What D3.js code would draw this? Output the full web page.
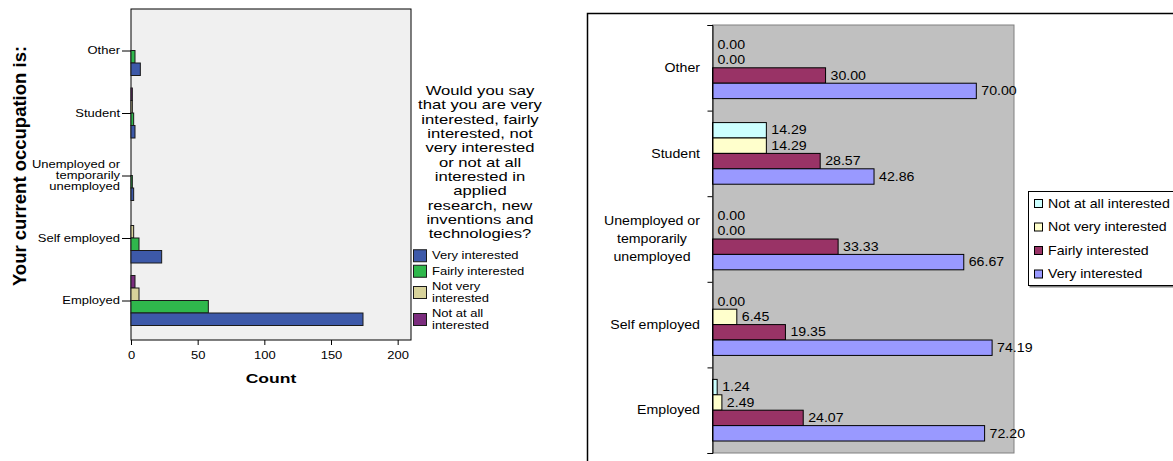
<!DOCTYPE html>
<html>
<head>
<meta charset="utf-8">
<script src="https://cdn.jsdelivr.net/npm/d3@7"></script>
<style>
  html, body { margin: 0; padding: 0; background: #fff; }
  svg { display: block; font-family: "Liberation Sans", Arial, sans-serif; }
</style>
</head>
<body>
<svg id="chart" width="1173" height="461"></svg>
<script>
// ---------- data ----------
const categories = ["Other", "Student", "Unemployed or\ntemporarily\nunemployed", "Self employed", "Employed"];

// respondent counts per occupation
const countNotAtAll = [0, 1, 0, 0, 3];
const countNotVery  = [0, 1, 0, 2, 6];
const countFairly   = [3, 2, 1, 6, 58];
const countVery     = [7, 3, 2, 23, 174];
const countTicks    = [0, 50, 100, 150, 200];

// row percentages per occupation
const pctNotAtAll = [0.00, 14.29, 0.00, 0.00, 1.24];
const pctNotVery  = [0.00, 14.29, 0.00, 6.45, 2.49];
const pctFairly   = [30.00, 28.57, 33.33, 19.35, 24.07];
const pctVery     = [70.00, 42.86, 66.67, 74.19, 72.20];

const seriesNames = ["Not at all interested", "Not very interested", "Fairly interested", "Very interested"];
const leftLegendTitle = ["Would you say", "that you are very", "interested, fairly", "interested, not",
  "very interested", "or not at all", "interested in", "applied", "research, new",
  "inventions and", "technologies?"];
const leftLegendLabels = ["Very interested", "Fairly interested", "Not very\ninterested", "Not at all\ninterested"];
const leftAxisTitle = "Your current occupation is:";
const leftCountTitle = "Count";

// ---------- helpers ----------
const svg = d3.select("#chart");
const SX_L = 1.3;    // horizontal text stretch, left panel
const SX_R = 1.18;   // horizontal text stretch, right panel

function stretch(sel, s) {
  sel.each(function () {
    const t = d3.select(this);
    const x = +t.attr("x") || 0;
    t.attr("x", x / s).attr("transform", `scale(${s},1)`);
    t.selectAll("tspan").attr("x", x / s);
  });
}

// split "\n" text into centred stacked lines, keeping the element's own dy
function multiline(textSel, lineEm) {
  textSel.each(function () {
    const t = d3.select(this);
    const base = parseFloat(t.attr("dy")) || 0;
    const lines = t.text().split("\n");
    t.text(null).attr("dy", null);
    const x = +t.attr("x") || 0;
    lines.forEach((ln, k) => {
      t.append("tspan")
        .attr("x", x)
        .attr("dy", k === 0 ? `${base - (lines.length - 1) / 2 * lineEm}em` : `${lineEm}em`)
        .text(ln);
    });
  });
}

// ======================================================
// Left panel: counts by occupation
// ======================================================
const L = { x0: 131, x1: 411, y0: 9, y1: 340 };
const xL = d3.scaleLinear().domain([0, 210]).range([L.x0, L.x1]);
const yL = d3.scalePoint().domain(categories).range([50.5, 300.5]);
const leftBarH = 12.5;
const leftSeries = [
  { values: countNotAtAll, color: "#7b2d7e" },
  { values: countNotVery,  color: "#d8d39b" },
  { values: countFairly,   color: "#2fb84c" },
  { values: countVery,     color: "#3d59a9" }
];

const gL = svg.append("g");
gL.append("rect")
  .attr("x", L.x0).attr("y", L.y0)
  .attr("width", L.x1 - L.x0).attr("height", L.y1 - L.y0)
  .attr("fill", "#f0f0f0").attr("stroke", "#000").attr("stroke-width", 1);

leftSeries.forEach((s, j) => {
  gL.append("g").selectAll("rect")
    .data(categories.map((c, i) => ({ c, v: s.values[i] })).filter(d => d.v > 0))
    .join("rect")
    .attr("x", xL(0))
    .attr("y", d => yL(d.c) + (j - 2) * leftBarH)
    .attr("width", d => xL(d.v) - xL(0))
    .attr("height", leftBarH)
    .attr("fill", s.color)
    .attr("stroke", "#1a1a1a").attr("stroke-width", 1);
});

// category axis
const yAxisL = gL.append("g")
  .attr("transform", `translate(${L.x0},0)`)
  .call(d3.axisLeft(yL).tickSize(9).tickPadding(2));
yAxisL.select(".domain").remove();
yAxisL.selectAll(".tick line").attr("stroke", "#000");
yAxisL.selectAll(".tick text")
  .attr("fill", "#000").attr("font-size", 10).attr("font-family", null)
  .call(multiline, 1.13);
stretch(yAxisL.selectAll(".tick text"), SX_L);

// count axis
const xAxisL = gL.append("g")
  .attr("transform", `translate(0,${L.y1})`)
  .call(d3.axisBottom(xL).tickValues(countTicks).tickSize(5).tickPadding(7));
xAxisL.select(".domain").remove();
xAxisL.selectAll(".tick line").attr("stroke", "#000");
xAxisL.selectAll(".tick text").attr("fill", "#000").attr("font-size", 10).attr("font-family", null);
stretch(xAxisL.selectAll(".tick text"), SX_L);

gL.append("text")
  .attr("x", (L.x0 + L.x1) / 2).attr("y", 378).attr("dy", "0.35em")
  .attr("text-anchor", "middle").attr("font-size", 13.5).attr("font-weight", "bold")
  .text(leftCountTitle)
  .call(stretch, SX_L);

gL.append("text")
  .attr("transform", "translate(20,166) rotate(-90)")
  .attr("text-anchor", "middle").attr("dy", "0.35em")
  .attr("font-size", 18.5).attr("font-weight", "bold")
  .text(leftAxisTitle);

// legend
const gLL = svg.append("g");
gLL.selectAll("text.title")
  .data(leftLegendTitle)
  .join("text")
  .attr("class", "title")
  .attr("x", 480).attr("y", (d, i) => 90.7 + i * 14.3).attr("dy", "0.35em")
  .attr("text-anchor", "middle").attr("font-size", 12.8)
  .text(d => d)
  .call(stretch, SX_L);

const legColorsL = ["#3d59a9", "#2fb84c", "#d8d39b", "#7b2d7e"];
let legTop = 248;
leftLegendLabels.forEach((lab, k) => {
  const n = lab.split("\n").length;
  const h = n === 1 ? 15.5 : 27;
  const cy = legTop + h / 2;
  gLL.append("rect")
    .attr("x", 413.5).attr("y", cy - 6).attr("width", 13).attr("height", 12)
    .attr("fill", legColorsL[k]).attr("stroke", "#1a1a1a");
  gLL.append("text")
    .attr("x", 432).attr("y", cy).attr("dy", "0.35em")
    .attr("font-size", 10)
    .text(lab)
    .call(multiline, 1.13)
    .call(stretch, SX_L);
  legTop += h;
});

// ======================================================
// Right panel: percentages by occupation
// ======================================================
const gR = svg.append("g");
gR.append("rect")
  .attr("x", 587.5).attr("y", 13.5).attr("width", 620).attr("height", 480)
  .attr("fill", "#fff").attr("stroke", "#000").attr("stroke-width", 1.5);

const R = { x0: 712.5, x1: 1014, y0: 25, y1: 453 };
const xR = d3.scaleLinear().domain([0, 80]).range([R.x0, R.x1]);
const yR = d3.scaleBand().domain(categories).range([R.y0, R.y1]).paddingInner(0.28).paddingOuter(0.14);
const ySub = d3.scaleBand().domain(d3.range(4)).range([0, yR.bandwidth()]);
const rightSeries = [
  { values: pctNotAtAll, color: "#ccffff" },
  { values: pctNotVery,  color: "#ffffcc" },
  { values: pctFairly,   color: "#993366" },
  { values: pctVery,     color: "#9999ff" }
];

gR.append("rect")
  .attr("x", R.x0).attr("y", R.y0).attr("width", R.x1 - R.x0).attr("height", R.y1 - R.y0)
  .attr("fill", "#c0c0c0").attr("stroke", "#808080").attr("stroke-width", 1);

const fmt = d3.format(".2f");
rightSeries.forEach((s, j) => {
  const data = categories.map((c, i) => ({ c, v: s.values[i] }));
  const g = gR.append("g");
  g.selectAll("rect")
    .data(data.filter(d => d.v > 0))
    .join("rect")
    .attr("x", xR(0))
    .attr("y", d => yR(d.c) + ySub(j))
    .attr("width", d => xR(d.v) - xR(0))
    .attr("height", ySub.bandwidth())
    .attr("fill", s.color)
    .attr("stroke", "#000").attr("stroke-width", 1);
  g.selectAll("text")
    .data(data)
    .join("text")
    .attr("x", d => xR(d.v) + 5)
    .attr("y", d => yR(d.c) + ySub(j) + ySub.bandwidth() / 2)
    .attr("dy", "0.35em")
    .attr("font-size", 12)
    .text(d => fmt(d.v))
    .call(stretch, SX_R);
});

// category axis with ticks between groups
const yEdges = d3.scaleLinear().domain([0, categories.length]).range([R.y0, R.y1]);
const yAxisR = gR.append("g")
  .attr("transform", `translate(${R.x0},0)`)
  .call(d3.axisLeft(yEdges).tickValues(d3.range(categories.length + 1)).tickSize(5).tickFormat(""));
yAxisR.select(".domain").attr("stroke", "#000");
yAxisR.selectAll(".tick line").attr("stroke", "#000");

categories.forEach(c => {
  const t = gR.append("text")
    .attr("y", yR(c) + yR.bandwidth() / 2).attr("dy", "0.35em")
    .attr("font-size", 12).attr("text-anchor", "middle")
    .attr("x", 0)
    .text(c)
    .call(multiline, 1.5);
  let w = 0;
  t.selectAll("tspan").each(function () { w = Math.max(w, this.getComputedTextLength()); });
  t.attr("x", 700 - w * SX_R / 2);
  t.selectAll("tspan").attr("x", 700 - w * SX_R / 2);
  stretch(t, SX_R);
});

// legend
const gRL = svg.append("g");
gRL.append("rect")
  .attr("x", 1029.5).attr("y", 192.5).attr("width", 160).attr("height", 95)
  .attr("fill", "#808080");
gRL.append("rect")
  .attr("x", 1028.5).attr("y", 191.5).attr("width", 160).attr("height", 94)
  .attr("fill", "#fff").attr("stroke", "#000");
seriesNames.forEach((name, k) => {
  const cy = 203.5 + k * 23.5;
  gRL.append("rect")
    .attr("x", 1034.5).attr("y", cy - 4).attr("width", 8).attr("height", 8)
    .attr("fill", rightSeries[k].color).attr("stroke", "#000");
  gRL.append("text")
    .attr("x", 1048).attr("y", cy).attr("dy", "0.35em")
    .attr("font-size", 12)
    .text(name)
    .call(stretch, SX_R);
});
</script>
</body>
</html>
